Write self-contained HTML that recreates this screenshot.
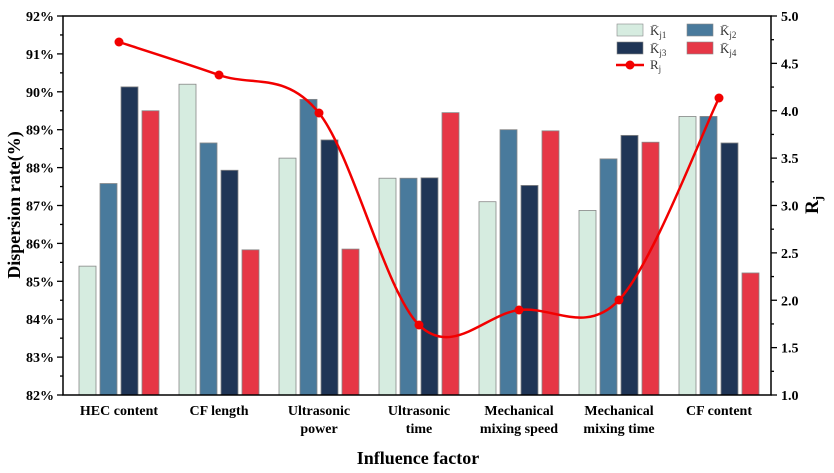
<!DOCTYPE html>
<html><head><meta charset="utf-8"><style>
body{margin:0;background:#fff;}
svg{display:block;font-family:"Liberation Serif",serif;}
.t{font-size:14px;font-weight:bold;}
</style></head><body>
<svg width="834" height="473" viewBox="0 0 834 473" xmlns="http://www.w3.org/2000/svg">
<g id="bars" stroke="#888" stroke-width="0.8"></g>
<path d="M119,42 C135.7,47.5 185.7,63.2 219,75 C252.3,86.8 285.7,71.3 319,113 C352.3,154.7 385.7,292.2 419,325 C452.3,357.8 485.7,314.2 519,310 C552.3,305.8 585.7,335.3 619,300 C652.3,264.7 702.3,131.7 719,98" fill="none" stroke="#f20000" stroke-width="2.5"/>
<g fill="#f20000">
<circle cx="119" cy="42" r="4.5"/><circle cx="219" cy="75" r="4.5"/><circle cx="319" cy="113" r="4.5"/><circle cx="419" cy="325" r="4.5"/><circle cx="519" cy="310" r="4.5"/><circle cx="619" cy="300" r="4.5"/><circle cx="719" cy="98" r="4.5"/>
</g>
<rect x="63" y="16" width="708" height="379" fill="none" stroke="#000" stroke-width="1.5"/>
<g id="ticks" stroke="#000" stroke-width="1.3"></g>
<g id="labels" class="t"></g>
<text x="0" y="0" transform="translate(20,205) rotate(-90)" text-anchor="middle" font-size="18" font-weight="bold">Dispersion rate(%)</text>
<text x="818" y="205" transform="rotate(-90 818 205)" text-anchor="middle" font-size="19" font-weight="bold">R<tspan font-size="13" dy="4">j</tspan></text>
<text x="418" y="464" text-anchor="middle" font-size="18" font-weight="bold">Influence factor</text>
<g font-size="13" fill="#333">
<rect x="617" y="24" width="26" height="12" fill="#d6ece0" stroke="#888" stroke-width="0.6"/>
<text x="650" y="35">K̄<tspan font-size="9" dy="3">j1</tspan></text>
<rect x="687" y="24" width="26" height="12" fill="#497a9c" stroke="#888" stroke-width="0.6"/>
<text x="720" y="35">K̄<tspan font-size="9" dy="3">j2</tspan></text>
<rect x="617" y="42" width="26" height="12" fill="#1f3556" stroke="#888" stroke-width="0.6"/>
<text x="650" y="53">K̄<tspan font-size="9" dy="3">j3</tspan></text>
<rect x="687" y="42" width="26" height="12" fill="#e63746" stroke="#888" stroke-width="0.6"/>
<text x="720" y="53">K̄<tspan font-size="9" dy="3">j4</tspan></text>
<line x1="616" y1="65" x2="644" y2="65" stroke="#f20000" stroke-width="2.5"/>
<circle cx="630" cy="65" r="4.5" fill="#f20000"/>
<text x="650" y="69">R<tspan font-size="9" dy="3">j</tspan></text>
</g>
</svg>
<script>
const ns="http://www.w3.org/2000/svg";
const data=[[85.4,87.58,90.13,89.5],[90.2,88.65,87.93,85.83],[88.25,89.8,88.73,85.85],[87.72,87.72,87.73,89.45],[87.1,89.0,87.53,88.97],[86.87,88.23,88.85,88.67],[89.35,89.35,88.65,85.22]];
const cols=["#d6ece0","#497a9c","#1f3556","#e63746"];
const yL=v=>395-(v-82)*37.9;
const yR=v=>395-(v-1)*94.75;
const bars=document.getElementById("bars");
data.forEach((g,i)=>{const c=119+100*i;g.forEach((v,j)=>{const r=document.createElementNS(ns,"rect");const x=c-40+21*j;r.setAttribute("x",x);r.setAttribute("width",17);r.setAttribute("y",yL(v));r.setAttribute("height",395-yL(v));r.setAttribute("fill",cols[j]);bars.appendChild(r);});});
const tk=document.getElementById("ticks"),lb=document.getElementById("labels");
function line(x1,y1,x2,y2){const l=document.createElementNS(ns,"line");l.setAttribute("x1",x1);l.setAttribute("y1",y1);l.setAttribute("x2",x2);l.setAttribute("y2",y2);tk.appendChild(l);}
function text(x,y,s,a){const t=document.createElementNS(ns,"text");t.setAttribute("x",x);t.setAttribute("y",y);t.setAttribute("text-anchor",a);t.textContent=s;lb.appendChild(t);}
for(let v=82;v<=92;v+=0.5){const y=yL(v);const maj=Number.isInteger(v);line(63,y,maj?57:60,y);if(maj)text(54,y+5,v+"%","end");}
for(let v=1;v<=5.001;v+=0.25){const y=yR(v);const maj=Math.abs(v*2-Math.round(v*2))<1e-6;line(771,y,maj?777:774,y);if(maj)text(781,y+5,v.toFixed(1),"start");}
const xl=[["HEC content"],["CF length"],["Ultrasonic","power"],["Ultrasonic","time"],["Mechanical","mixing speed"],["Mechanical","mixing time"],["CF content"]];
xl.forEach((a,i)=>{a.forEach((s,k)=>text(119+100*i,415+k*18,s,"middle"));});
</script>
</body></html>
